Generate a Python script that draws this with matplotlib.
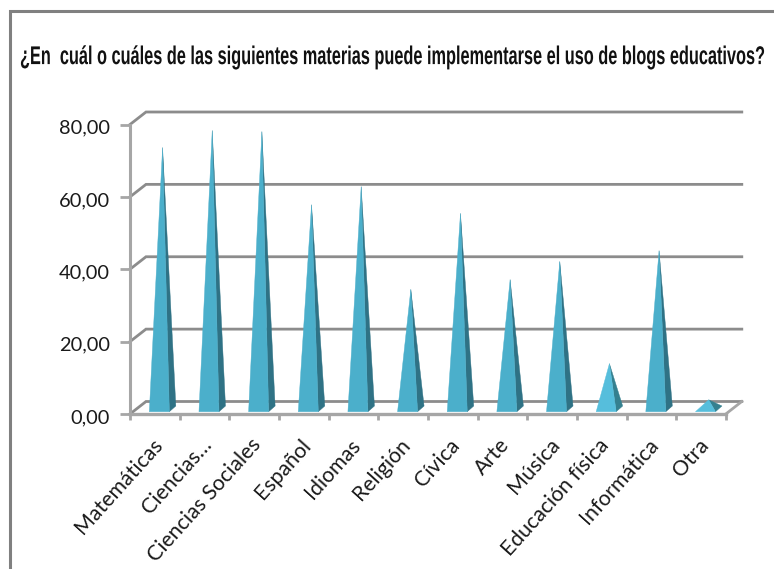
import matplotlib
matplotlib.use("Agg")
import matplotlib.pyplot as plt
from matplotlib.patches import Polygon
from matplotlib.patheffects import AbstractPathEffect
from matplotlib.transforms import Affine2D

TITLE = "¿En  cuál o cuáles de las siguientes materias puede implementarse el uso de blogs educativos?"
categories = ["Matemáticas", "Ciencias…", "Ciencias Sociales", "Español", "Idiomas", "Religión",
              "Cívica", "Arte", "Música", "Educación física", "Informática", "Otra"]
values = [72.2, 76.9, 76.6, 56.4, 61.4, 33.0, 54.0, 35.7, 40.7, 12.5, 43.7, 2.5]
y_ticks = [0, 20, 40, 60, 80]
y_tick_labels = ["0,00", "20,00", "40,00", "60,00", "80,00"]

W, H = 774, 569
fig = plt.figure(figsize=(W / 100, H / 100), dpi=100, facecolor="white")
ax = fig.add_axes([0, 0, 1, 1])
ax.axis("off")

PX_X0, PX_STEP = 130.0, 49.65
PX_Y0, PX_YU = 414.0, 289.5 / 80
ax.set_xlim(-PX_X0 / PX_STEP, (W - PX_X0) / PX_STEP)
ax.set_ylim((PX_Y0 - H) / PX_YU, PX_Y0 / PX_YU)

DX = 16 / PX_STEP
DY = 12.5 / PX_YU
n = len(categories)
GRID = "#8c8c8c"
AXC = "#a6a6a6"
LABEL_FONT = ["Lato", "DejaVu Sans"]

for t in y_ticks:
    ax.plot([0, DX, n + DX], [t, t + DY, t + DY], color=GRID, lw=2.0,
            solid_joinstyle="miter", zorder=1)
    ax.plot([-10 / PX_STEP, 0], [t, t], color=AXC, lw=2.0, zorder=2, solid_capstyle="butt")
    ax.text(-20 / PX_STEP, t - 1.0, y_tick_labels[t // 20], ha="right", va="center",
            fontsize=14.4, family=LABEL_FONT, color="#1a1a1a")
ax.plot([0, 0], [0, 80], color=AXC, lw=2.2, zorder=2)
ax.plot([0, n], [0, 0], color=AXC, lw=2.4, zorder=2)
ax.plot([n, n + DX], [0, DY], color=AXC, lw=2.0, zorder=1)
for i in range(n + 1):
    ax.plot([i, i], [0, -6 / PX_YU], color=AXC, lw=2.0, zorder=2, solid_capstyle="butt")

HALF = 10 / PX_STEP
PDX = 6.5 / PX_STEP
PDY = 5.7 / PX_YU
BASE = 2.3 / PX_YU
OFF = 4.5 / PX_STEP
for i, v in enumerate(values):
    c = i + 0.5 + OFF
    apex = (c + PDX / 2, v + BASE + PDY / 2)
    fl, fr = (c - HALF, BASE), (c + HALF, BASE)
    br = (c + HALF + PDX, BASE + PDY)
    light = v < 15
    face = "#56bedc" if light else "#4bafcb"
    side = "#35808f" if light else "#2f7285"
    ax.add_patch(Polygon([apex, fr, br], closed=True, fc=side, ec=side, lw=0.3, zorder=3))
    ax.add_patch(Polygon([fl, fr, apex], closed=True, fc=face, ec=face, lw=0.3, zorder=4))
    ax.text(i + 0.43, -5.8, categories[i], rotation=48, rotation_mode="anchor",
            ha="right", va="top", fontsize=15.3, family=LABEL_FONT, color="#1a1a1a")


# The reference title is set in a tall condensed bold face; no such family is installed,
# so the real text is set to the reference's width and stretched upward when drawn.
class Stretch(AbstractPathEffect):
    def __init__(self, y0, sy):
        super().__init__()
        self.y0, self.sy = y0, sy

    def draw_path(self, renderer, gc, tpath, affine, rgbFace=None):
        tall = Affine2D().translate(0, -self.y0).scale(1, self.sy).translate(0, self.y0)
        renderer.draw_path(gc, tpath, affine + tall, rgbFace)


TITLE_PT = 18.5
title = fig.text(20 / W, 1 - 57 / H, TITLE, ha="left", va="center", fontsize=TITLE_PT,
                 fontweight="bold", family=["Liberation Sans", "DejaVu Sans"], color="#111111")
renderer = fig.canvas.get_renderer()
ratio = 747 / title.get_window_extent(renderer).width
title.set_fontsize(TITLE_PT * ratio)
box = title.get_window_extent(renderer)
title.set_path_effects([Stretch((box.y0 + box.y1) / 2, 1 / ratio)])

xl, yl = ax.get_xlim(), ax.get_ylim()
ax.plot([xl[0] + 9.5 / PX_STEP] * 2 + [xl[1]],
        [yl[0], (PX_Y0 - 11.5) / PX_YU, (PX_Y0 - 11.5) / PX_YU],
        color="#808080", lw=2.2, solid_joinstyle="miter", zorder=5)

fig.savefig("out.png", dpi=100)
